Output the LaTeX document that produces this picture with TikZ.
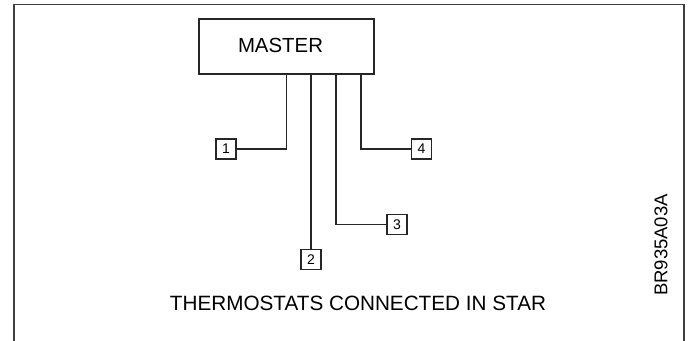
\documentclass[tikz,border=0pt]{standalone}
\usepackage{fontspec}
\setmainfont{Liberation Sans}
\begin{document}
\begin{tikzpicture}[x=1pt,y=-1pt,
  ln/.style={draw=black!85,line width=1.9pt},
  tbox/.style={draw=black!85,line width=1.9pt,minimum width=20pt,minimum height=20pt,inner sep=0pt,font=\fontsize{14}{14}\selectfont},
  mbox/.style={draw=black!85,line width=2pt,minimum width=175pt,minimum height=55pt,inner sep=0pt,font=\fontsize{20.4}{20}\selectfont},
  frm/.style={draw=black!75,line width=1.6pt}]
\useasboundingbox (0,0) rectangle (692,340);
\fill[white] (0,0) rectangle (692,340);
% frame (open at bottom)
\coordinate (fbl) at (14,341);
\coordinate (ftl) at (14,4.5);
\coordinate (ftr) at (684,4.5);
\coordinate (fbr) at (684,341);
\draw[frm] (fbl) -- (ftl) -- (ftr) -- (fbr);
% master
\node[mbox] (master) at (286,46) {};
\node[font=\fontsize{20.4}{20}\selectfont] (mtext) at (280.5,45) {MASTER};
% thermostats
\node[tbox] (b1) at (226,149) {1};
\node[tbox] (b2) at (311,259.5) {2};
\node[tbox] (b3) at (397,224.5) {3};
\node[tbox] (b4) at (421.5,149) {4};
% taps on master bottom
\coordinate (t1) at (286.5,74);
\coordinate (t2) at (311,74);
\coordinate (t3) at (336,74);
\coordinate (t4) at (361,74);
\draw[ln] (t1) |- (b1.east);
\draw[ln] (t2) -- (b2.north);
\draw[ln] (t3) |- (b3.west);
\draw[ln] (t4) |- (b4.west);
% caption
\node[font=\fontsize{20.7}{20}\selectfont] (cap) at (358,303) {THERMOSTATS CONNECTED IN STAR};
\node[font=\fontsize{18.5}{18}\selectfont,rotate=90] (code) at (661,245) {BR935A03A};
\end{tikzpicture}
\end{document}
